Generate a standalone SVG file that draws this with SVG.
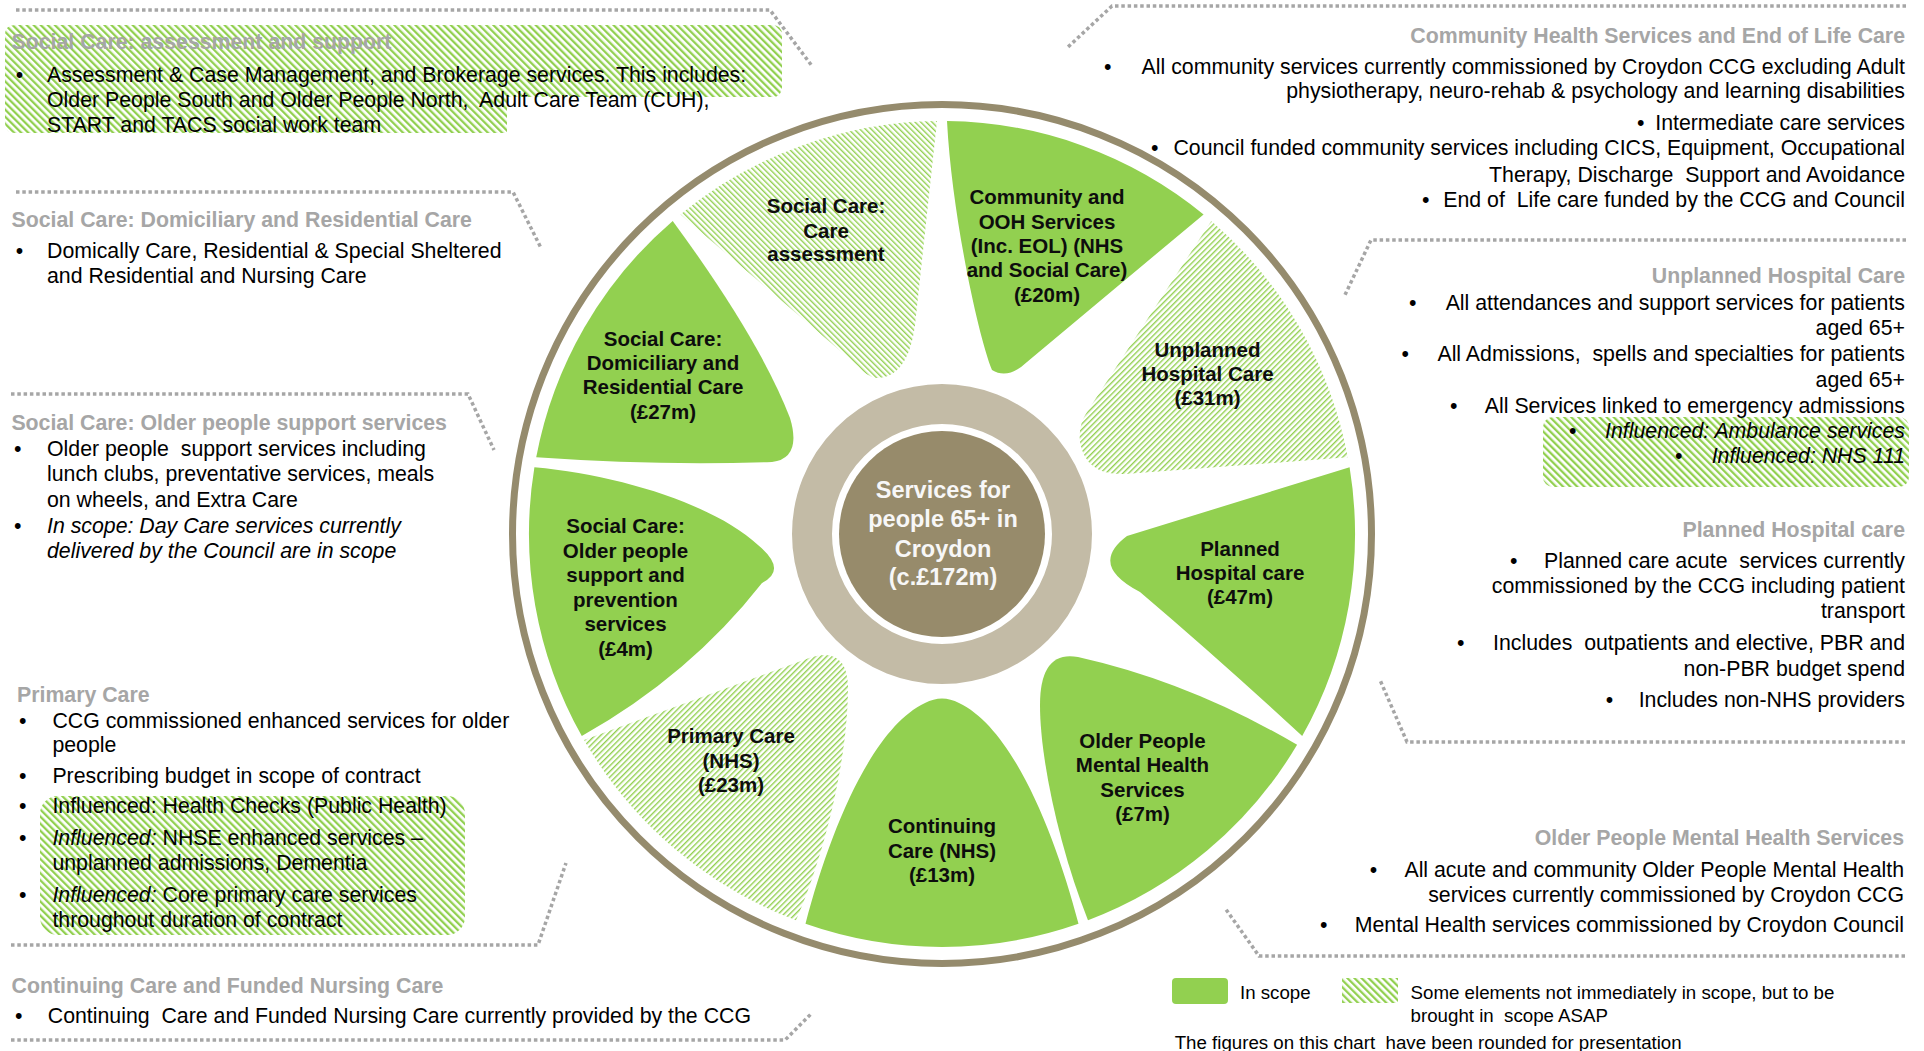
<svg xmlns="http://www.w3.org/2000/svg" width="1924" height="1051" viewBox="0 0 1924 1051">
<defs>
<style>
.body{font-family:"Liberation Sans",Arial,sans-serif;font-size:21.3px;fill:#000;white-space:pre}
.title{font-family:"Liberation Sans",Arial,sans-serif;font-size:21.3px;font-weight:bold;fill:#A6A6A6;white-space:pre}
.r{text-anchor:end}
.it{font-style:italic}
.lbl{font-family:"Liberation Sans",Arial,sans-serif;font-size:20.5px;font-weight:bold;fill:#0d0d0d;text-anchor:middle}
.ctr{font-family:"Liberation Sans",Arial,sans-serif;font-size:23.5px;font-weight:bold;fill:#F7F7F7;text-anchor:middle}
.leg{font-family:"Liberation Sans",Arial,sans-serif;font-size:18.7px;fill:#000;white-space:pre}
.dot{fill:none;stroke:#A6A6A6;stroke-width:3.5;stroke-dasharray:3.5 2.8}
.solid{fill:#92D050}
.hpb{fill:url(#petalBack)}
.hpf{fill:url(#petalFwd)}
.hbox{fill:url(#boxBack)}
</style>
<pattern id="petalBack" width="4" height="4" patternUnits="userSpaceOnUse" patternTransform="rotate(-45)"><rect width="1.4" height="4" fill="#92D050"/></pattern>
<pattern id="petalFwd" width="4" height="4" patternUnits="userSpaceOnUse" patternTransform="rotate(45)"><rect width="1.4" height="4" fill="#92D050"/></pattern>
<pattern id="boxBack" width="5" height="5" patternUnits="userSpaceOnUse" patternTransform="rotate(-45)"><rect width="2.3" height="5" fill="#92D050"/></pattern>
</defs>
<rect width="1924" height="1051" fill="#fff"/>

<g id="connectors">
<polyline class="dot" points="16,10 770,10 812,66"/>
<polyline class="dot" points="16,192 513,192 541,248"/>
<polyline class="dot" points="11,394 468,394 494,450"/>
<polyline class="dot" points="11,945 538,945 566,863"/>
<polyline class="dot" points="11,1040 785,1040 812,1013"/>
<polyline class="dot" points="1906,6 1112,6 1068,47"/>
<polyline class="dot" points="1906,240 1371,240 1344,297"/>
<polyline class="dot" points="1905,742 1407,742 1380,680"/>
<polyline class="dot" points="1905,956 1259,956 1225,908"/>
</g>

<g id="wheel">
<circle cx="942" cy="534" r="429.5" fill="none" stroke="#958B6D" stroke-width="7"/>
</g>

<g id="petal-care-assessment">
<path class="hpb" d="M680.4,214.4 A413,413 0 0 1 937,121 L915,325 Q908,378 876,378 Q866,376 858,366 Z"/>
<text class="lbl" x="826" y="213.3">Social Care:</text>
<text class="lbl" x="826" y="237.7">Care</text>
<text class="lbl" x="826" y="261">assessment</text>
</g>

<g id="petal-community">
<path class="solid" d="M947,121 A413,413 0 0 1 1203.6,214.4 L1027,362 Q1008,380 992,370 C978,335 952,215 947,121 Z"/>
<text class="lbl" x="1047" y="204.3">Community and</text>
<text class="lbl" x="1047" y="228.6">OOH Services</text>
<text class="lbl" x="1047" y="252.9">(Inc. EOL) (NHS</text>
<text class="lbl" x="1047" y="277.2">and Social Care)</text>
<text class="lbl" x="1047" y="301.5">(£20m)</text>
</g>

<g id="petal-unplanned">
<path class="hpf" d="M1211.3,220.9 A413,413 0 0 1 1347.8,457.3 L1125,474 Q1086,476 1080,442 Q1078,425 1087,412 Z"/>
<text class="lbl" x="1207.5" y="356.7">Unplanned</text>
<text class="lbl" x="1207.5" y="381">Hospital Care</text>
<text class="lbl" x="1207.5" y="405.3">(£31m)</text>
</g>

<g id="petal-planned">
<path class="solid" d="M1349.6,467.3 A413,413 0 0 1 1302.2,736.1 Q1220,660 1140,592 Q1088,565 1127,536 Z"/>
<text class="lbl" x="1240" y="555.7">Planned</text>
<text class="lbl" x="1240" y="580">Hospital care</text>
<text class="lbl" x="1240" y="604.3">(£47m)</text>
</g>

<g id="petal-mental-health">
<path class="solid" d="M1297.1,744.8 A413,413 0 0 1 1088,920.3 C1060,850 1040,760 1040,705 Q1040,650 1078,657 Q1190,682 1297.1,744.8 Z"/>
<text class="lbl" x="1142.5" y="747.7">Older People</text>
<text class="lbl" x="1142.5" y="772.2">Mental Health</text>
<text class="lbl" x="1142.5" y="796.7">Services</text>
<text class="lbl" x="1142.5" y="821.2">(£7m)</text>
</g>

<g id="petal-continuing">
<path class="solid" d="M1078.5,923.8 A413,413 0 0 1 805.5,923.8 C830,830 872,728 925,703 Q942,694 959,703 C1012,728 1054,830 1078.5,923.8 Z"/>
<text class="lbl" x="942" y="833.3">Continuing</text>
<text class="lbl" x="942" y="857.7">Care (NHS)</text>
<text class="lbl" x="942" y="882.1">(£13m)</text>
</g>

<g id="petal-primary">
<path class="hpf" d="M796,920.3 A413,413 0 0 1 584,740 L812,657 Q846,647 848,685 C848,765 822,860 796,920.3 Z"/>
<text class="lbl" x="731" y="743.3">Primary Care</text>
<text class="lbl" x="731" y="767.8">(NHS)</text>
<text class="lbl" x="731" y="792.3">(£23m)</text>
</g>

<g id="petal-older-support">
<path class="solid" d="M581.8,736.1 A413,413 0 0 1 534.4,467.3 C620,475 715,505 758,545 Q788,570 762,583 Q690,675 581.8,736.1 Z"/>
<text class="lbl" x="625.5" y="533">Social Care:</text>
<text class="lbl" x="625.5" y="557.6">Older people</text>
<text class="lbl" x="625.5" y="582.2">support and</text>
<text class="lbl" x="625.5" y="606.8">prevention</text>
<text class="lbl" x="625.5" y="631.4">services</text>
<text class="lbl" x="625.5" y="656">(£4m)</text>
</g>

<g id="petal-domiciliary">
<path class="solid" d="M536.2,457.3 A413,413 0 0 1 672.7,220.9 Q760,340 790,418 Q802,458 772,462 Q660,466 536.2,457.3 Z"/>
<text class="lbl" x="663" y="345.7">Social Care:</text>
<text class="lbl" x="663" y="370">Domiciliary and</text>
<text class="lbl" x="663" y="394.3">Residential Care</text>
<text class="lbl" x="663" y="418.6">(£27m)</text>
</g>

<g id="center">
<circle cx="942" cy="534" r="130" fill="none" stroke="#C3BBA6" stroke-width="40"/>
<circle cx="942" cy="534" r="103" fill="#978B6B"/>
<text class="ctr" x="943" y="497.5">Services for</text>
<text class="ctr" x="943" y="527">people 65+ in</text>
<text class="ctr" x="943" y="556.5">Croydon</text>
<text class="ctr" x="943" y="585">(c.£172m)</text>
</g>

<g id="text-assessment-support">
<path class="hbox" d="M15,25 H772 Q782,25 782,35 V87 Q782,97 772,97 H507 V133 H15 Q5,133 5,123 V35 Q5,25 15,25 Z"/>
<text class="title" x="11.5" y="49.3">Social Care: assessment and support</text>
<text class="body" x="15.7" y="81.7">•</text>
<text class="body" x="47" y="81.7">Assessment &amp; Case Management, and Brokerage services. This includes:</text>
<text class="body" x="47" y="106.7">Older People South and Older People North,  Adult Care Team (CUH),</text>
<text class="body" x="47" y="131.7">START and TACS social work team</text>
</g>

<g id="text-domiciliary">
<text class="title" x="11.5" y="226.7">Social Care: Domiciliary and Residential Care</text>
<text class="body" x="15.7" y="258">•</text>
<text class="body" x="47" y="258">Domically Care, Residential &amp; Special Sheltered</text>
<text class="body" x="47" y="283">and Residential and Nursing Care</text>
</g>

<g id="text-older-support">
<text class="title" x="11.4" y="430">Social Care: Older people support services</text>
<text class="body" x="14" y="456">•</text>
<text class="body" x="47" y="456">Older people  support services including</text>
<text class="body" x="47" y="481">lunch clubs, preventative services, meals</text>
<text class="body" x="47" y="506.7">on wheels, and Extra Care</text>
<text class="body" x="14" y="532.7">•</text>
<text class="body it" x="47" y="532.7">In scope: Day Care services currently</text>
<text class="body it" x="47" y="557.7">delivered by the Council are in scope</text>
</g>

<g id="text-primary">
<rect class="hbox" x="40" y="796" width="425" height="139" rx="18"/>
<text class="title" x="17" y="701.7">Primary Care</text>
<text class="body" x="19" y="728.3">•</text>
<text class="body" x="52.4" y="728.3">CCG commissioned enhanced services for older</text>
<text class="body" x="52.4" y="751.7">people</text>
<text class="body" x="19" y="783.3">•</text>
<text class="body" x="52.4" y="783.3">Prescribing budget in scope of contract</text>
<text class="body" x="19" y="813.3">•</text>
<text class="body" x="52.4" y="813.3">Influenced: Health Checks (Public Health)</text>
<text class="body" x="19" y="845">•</text>
<text class="body" x="52.4" y="845"><tspan class="it">Influenced:</tspan> NHSE enhanced services –</text>
<text class="body" x="52.4" y="870">unplanned admissions, Dementia</text>
<text class="body" x="19" y="901.7">•</text>
<text class="body" x="52.4" y="901.7"><tspan class="it">Influenced:</tspan> Core primary care services</text>
<text class="body" x="52.4" y="926.7">throughout duration of contract</text>
</g>

<g id="text-continuing">
<text class="title" x="11.5" y="993.3">Continuing Care and Funded Nursing Care</text>
<text class="body" x="15" y="1023">•</text>
<text class="body" x="47.8" y="1023">Continuing  Care and Funded Nursing Care currently provided by the CCG</text>
</g>

<g id="text-community">
<text class="title r" x="1905" y="42.7">Community Health Services and End of Life Care</text>
<text class="body" x="1104" y="74">•</text>
<text class="body r" x="1905" y="74">All community services currently commissioned by Croydon CCG excluding Adult</text>
<text class="body r" x="1905" y="98.3">physiotherapy, neuro-rehab &amp; psychology and learning disabilities</text>
<text class="body" x="1637" y="130">•</text>
<text class="body r" x="1905" y="130">Intermediate care services</text>
<text class="body" x="1151" y="155">•</text>
<text class="body r" x="1905" y="155">Council funded community services including CICS, Equipment, Occupational</text>
<text class="body r" x="1905" y="181.7">Therapy, Discharge  Support and Avoidance</text>
<text class="body" x="1422" y="206.7">•</text>
<text class="body r" x="1905" y="206.7">End of  Life care funded by the CCG and Council</text>
</g>

<g id="text-unplanned">
<rect class="hbox" x="1543" y="417" width="366" height="70" rx="10"/>
<text class="title r" x="1905" y="283.3">Unplanned Hospital Care</text>
<text class="body" x="1409" y="310">•</text>
<text class="body r" x="1905" y="310">All attendances and support services for patients</text>
<text class="body r" x="1905" y="335">aged 65+</text>
<text class="body" x="1401.5" y="361">•</text>
<text class="body r" x="1905" y="361">All Admissions,  spells and specialties for patients</text>
<text class="body r" x="1905" y="386.7">aged 65+</text>
<text class="body" x="1450" y="412.7">•</text>
<text class="body r" x="1905" y="412.7">All Services linked to emergency admissions</text>
<text class="body" x="1569" y="438.3">•</text>
<text class="body r it" x="1905" y="438.3">Influenced: Ambulance services</text>
<text class="body" x="1675" y="463.3">•</text>
<text class="body r it" x="1905" y="463.3">Influenced: NHS 111</text>
</g>

<g id="text-planned">
<text class="title r" x="1905" y="536.7">Planned Hospital care</text>
<text class="body" x="1510" y="568.3">•</text>
<text class="body r" x="1905" y="568.3">Planned care acute  services currently</text>
<text class="body r" x="1905" y="593.3">commissioned by the CCG including patient</text>
<text class="body r" x="1905" y="618.3">transport</text>
<text class="body" x="1457" y="650">•</text>
<text class="body r" x="1905" y="650">Includes  outpatients and elective, PBR and</text>
<text class="body r" x="1905" y="676">non-PBR budget spend</text>
<text class="body" x="1605.7" y="706.7">•</text>
<text class="body r" x="1905" y="706.7">Includes non-NHS providers</text>
</g>

<g id="text-mental-health">
<text class="title r" x="1904" y="845">Older People Mental Health Services</text>
<text class="body" x="1369.7" y="876.7">•</text>
<text class="body r" x="1904" y="876.7">All acute and community Older People Mental Health</text>
<text class="body r" x="1904" y="902.3">services currently commissioned by Croydon CCG</text>
<text class="body" x="1320" y="931.7">•</text>
<text class="body r" x="1904" y="931.7">Mental Health services commissioned by Croydon Council</text>
</g>

<g id="legend">
<rect class="solid" x="1172" y="978" width="56" height="26" rx="4"/>
<text class="leg" x="1240" y="999">In scope</text>
<rect class="hbox" x="1342" y="978" width="56" height="25"/>
<text class="leg" x="1410.6" y="999">Some elements not immediately in scope, but to be</text>
<text class="leg" x="1410.6" y="1021.7">brought in  scope ASAP</text>
<text class="leg" x="1174.7" y="1049">The figures on this chart  have been rounded for presentation</text>
</g>
</svg>
